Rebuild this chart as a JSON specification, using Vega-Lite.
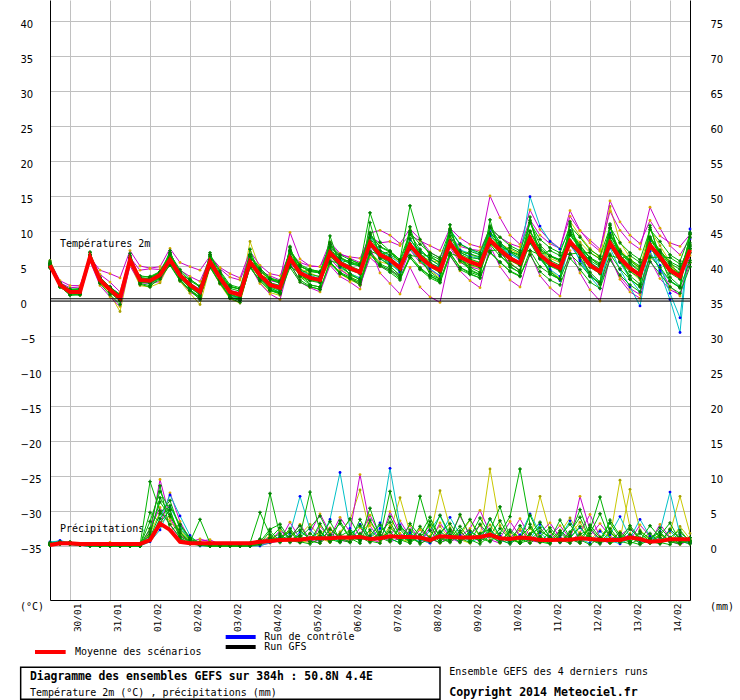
{
  "$schema": "https://vega.github.io/schema/vega-lite/v6.json",
  "width": 640,
  "height": 600,
  "autosize": {"type": "none"},
  "padding": {"left": 50, "top": 0, "right": 50, "bottom": 100},
  "background": "white",
  "view": {"stroke": null},
  "config": {
    "text": {"font": "DejaVu Sans Mono", "fontSize": 10, "align": "left", "baseline": "middle", "fill": "black"}
  },
  "datasets": {
    "temp": [
      {"t":0,"mean":5.1,"g1":5.3,"g2":5.0,"g3":5.5,"g4":4.8,"g5":5.2,"g6":5.0,"g7":4.9,"m1":5.0,"m2":5.3,"m3":5.6,"m4":4.9,"c1":5.1,"c2":5.0,"c3":5.2,"y1":5.8,"y2":5.4,"y3":5.1,"g8":5.4,"g9":4.8,"g10":5.7,"g11":5.3,"g12":5.3,"g13":4.7},
      {"t":6,"mean":2.3,"g1":2.0,"g2":2.5,"g3":2.1,"g4":2.4,"g5":2.2,"g6":2.2,"g7":2.3,"m1":2.6,"m2":2.2,"m3":2.9,"m4":2.0,"c1":2.4,"c2":2.1,"c3":2.5,"y1":2.7,"y2":2.3,"y3":2.4,"g8":2.6,"g9":2.0,"g10":2.5,"g11":2.5,"g12":2.1,"g13":2.3},
      {"t":12,"mean":1.3,"g1":1.0,"g2":1.5,"g3":0.8,"g4":1.6,"g5":1.2,"g6":1.3,"g7":1.2,"m1":1.9,"m2":1.1,"m3":2.2,"m4":1.4,"c1":1.5,"c2":1.1,"c3":1.7,"y1":1.6,"y2":1.2,"y3":1.4,"g8":1.6,"g9":1.0,"g10":0.9,"g11":1.5,"g12":1.5,"g13":1.7},
      {"t":18,"mean":1.3,"g1":1.5,"g2":1.0,"g3":0.9,"g4":1.8,"g5":1.2,"g6":1.4,"g7":1.0,"m1":2.0,"m2":0.8,"m3":2.2,"m4":1.6,"c1":1.1,"c2":1.4,"c3":1.6,"y1":1.4,"y2":1.1,"y3":1.2,"g8":1.6,"g9":1.0,"g10":0.9,"g11":1.5,"g12":1.1,"g13":1.7},
      {"t":24,"mean":6.3,"g1":6.6,"g2":5.9,"g3":7.0,"g4":6.0,"g5":6.4,"g6":6.4,"g7":6.1,"m1":6.5,"m2":5.7,"m3":6.2,"m4":6.0,"c1":6.0,"c2":6.2,"c3":6.5,"y1":6.1,"y2":6.7,"y3":6.2,"g8":6.6,"g9":6.0,"g10":6.9,"g11":6.5,"g12":6.5,"g13":5.9},
      {"t":30,"mean":3.0,"g1":3.3,"g2":2.6,"g3":2.5,"g4":3.4,"g5":3.2,"g6":3.1,"g7":2.8,"m1":3.8,"m2":2.2,"m3":4.4,"m4":3.0,"c1":2.8,"c2":3.2,"c3":3.4,"y1":2.6,"y2":3.1,"y3":2.9,"g8":3.3,"g9":2.7,"g10":3.2,"g11":3.2,"g12":2.8,"g13":3.0},
      {"t":36,"mean":1.6,"g1":1.2,"g2":1.9,"g3":0.9,"g4":2.0,"g5":1.4,"g6":1.6,"g7":1.4,"m1":2.7,"m2":0.6,"m3":3.9,"m4":1.9,"c1":1.5,"c2":1.8,"c3":2.0,"y1":1.0,"y2":1.5,"y3":1.7,"g8":1.9,"g9":1.3,"g10":1.2,"g11":1.8,"g12":1.8,"g13":2.0},
      {"t":42,"mean":0.4,"g1":0.1,"g2":0.8,"g3":-0.5,"g4":0.9,"g5":0.3,"g6":0.5,"g7":0.2,"m1":1.3,"m2":-0.8,"m3":3.3,"m4":1.0,"c1":0.5,"c2":0.6,"c3":0.9,"y1":-1.5,"y2":0.3,"y3":0.4,"g8":0.7,"g9":0.1,"g10":0.0,"g11":0.6,"g12":0.2,"g13":0.8},
      {"t":48,"mean":5.9,"g1":6.2,"g2":5.6,"g3":6.8,"g4":5.5,"g5":6.0,"g6":6.3,"g7":5.8,"m1":6.2,"m2":5.0,"m3":7.2,"m4":5.7,"c1":5.6,"c2":5.8,"c3":6.1,"y1":5.2,"y2":6.5,"y3":6.0,"g8":6.2,"g9":5.6,"g10":6.5,"g11":6.1,"g12":6.1,"g13":5.5},
      {"t":54,"mean":3.0,"g1":3.4,"g2":2.5,"g3":2.4,"g4":3.6,"g5":3.1,"g6":3.0,"g7":2.7,"m1":4.4,"m2":2.6,"m3":5.0,"m4":3.0,"c1":2.8,"c2":3.3,"c3":3.2,"y1":2.2,"y2":3.0,"y3":2.9,"g8":3.3,"g9":2.7,"g10":3.2,"g11":3.2,"g12":2.8,"g13":3.0},
      {"t":60,"mean":2.9,"g1":3.5,"g2":2.2,"g3":2.0,"g4":3.4,"g5":3.3,"g6":2.9,"g7":2.6,"m1":4.6,"m2":2.5,"m3":4.7,"m4":2.5,"c1":2.5,"c2":3.1,"c3":2.8,"y1":2.0,"y2":3.0,"y3":2.7,"g8":3.2,"g9":2.6,"g10":2.5,"g11":3.1,"g12":3.1,"g13":3.3},
      {"t":66,"mean":3.7,"g1":4.2,"g2":3.1,"g3":3.5,"g4":4.0,"g5":4.2,"g6":3.8,"g7":3.4,"m1":4.5,"m2":2.8,"m3":4.9,"m4":3.3,"c1":3.4,"c2":3.9,"c3":3.6,"y1":2.6,"y2":3.8,"y3":3.5,"g8":4.0,"g9":3.4,"g10":3.3,"g11":3.9,"g12":3.5,"g13":4.1},
      {"t":72,"mean":5.9,"g1":6.6,"g2":5.2,"g3":7.2,"g4":5.5,"g5":6.9,"g6":6.2,"g7":5.7,"m1":6.3,"m2":5.7,"m3":7.5,"m4":5.1,"c1":5.9,"c2":5.7,"c3":6.1,"y1":5.5,"y2":6.3,"y3":6.0,"g8":6.7,"g9":5.1,"g10":6.9,"g11":6.1,"g12":6.1,"g13":5.1},
      {"t":78,"mean":3.7,"g1":4.0,"g2":3.0,"g3":3.1,"g4":4.2,"g5":4.1,"g6":3.6,"g7":3.3,"m1":4.4,"m2":3.0,"m3":5.5,"m4":3.2,"c1":3.6,"c2":3.9,"c3":3.5,"y1":2.8,"y2":3.9,"y3":3.3,"g8":4.5,"g9":2.9,"g10":3.9,"g11":3.9,"g12":3.5,"g13":3.7},
      {"t":84,"mean":2.3,"g1":2.0,"g2":1.5,"g3":1.5,"g4":2.9,"g5":2.3,"g6":2.1,"g7":1.9,"m1":3.5,"m2":1.3,"m3":4.9,"m4":2.4,"c1":2.0,"c2":2.6,"c3":1.9,"y1":1.1,"y2":2.6,"y3":2.0,"g8":3.1,"g9":1.5,"g10":1.6,"g11":2.5,"g12":2.5,"g13":3.1},
      {"t":90,"mean":1.3,"g1":0.8,"g2":0.5,"g3":0.2,"g4":2.0,"g5":1.2,"g6":1.1,"g7":1.0,"m1":2.8,"m2":0.4,"m3":4.4,"m4":1.7,"c1":1.2,"c2":1.6,"c3":0.9,"y1":-0.5,"y2":1.5,"y3":1.0,"g8":2.1,"g9":0.5,"g10":0.6,"g11":1.5,"g12":1.1,"g13":2.1},
      {"t":96,"mean":5.6,"g1":5.2,"g2":4.9,"g3":6.9,"g4":5.9,"g5":5.4,"g6":5.9,"g7":5.3,"m1":6.1,"m2":5.2,"m3":6.4,"m4":5.5,"c1":5.4,"c2":5.8,"c3":5.3,"y1":4.9,"y2":6.0,"y3":5.7,"g8":6.4,"g9":4.8,"g10":6.6,"g11":6.6,"g12":5.8,"g13":4.8},
      {"t":102,"mean":3.3,"g1":3.8,"g2":2.6,"g3":2.9,"g4":3.9,"g5":3.1,"g6":3.4,"g7":2.9,"m1":4.6,"m2":2.5,"m3":4.8,"m4":3.0,"c1":3.0,"c2":3.5,"c3":3.1,"y1":2.4,"y2":3.3,"y3":3.2,"g8":4.1,"g9":2.5,"g10":3.5,"g11":4.3,"g12":3.1,"g13":3.3},
      {"t":108,"mean":1.3,"g1":1.8,"g2":0.5,"g3":0.4,"g4":2.0,"g5":0.9,"g6":1.3,"g7":1.0,"m1":3.4,"m2":0.8,"m3":3.9,"m4":1.5,"c1":1.0,"c2":1.5,"c3":0.9,"y1":0.3,"y2":1.2,"y3":1.2,"g8":2.1,"g9":0.5,"g10":0.6,"g11":2.3,"g12":1.5,"g13":2.1},
      {"t":114,"mean":0.9,"g1":1.4,"g2":0.1,"g3":-0.2,"g4":1.7,"g5":0.4,"g6":0.9,"g7":0.5,"m1":3.0,"m2":0.3,"m3":3.3,"m4":1.2,"c1":0.3,"c2":1.0,"c3":0.2,"y1":-0.3,"y2":0.6,"y3":0.7,"g8":1.7,"g9":0.1,"g10":0.2,"g11":1.9,"g12":0.7,"g13":1.7},
      {"t":120,"mean":5.6,"g1":6.4,"g2":4.8,"g3":7.4,"g4":5.9,"g5":5.5,"g6":5.9,"g7":5.4,"m1":6.4,"m2":5.0,"m3":7.1,"m4":5.2,"c1":5.3,"c2":5.4,"c3":5.6,"y1":5.1,"y2":8.5,"y3":5.8,"g8":6.4,"g9":4.8,"g10":6.6,"g11":6.6,"g12":5.8,"g13":4.8},
      {"t":126,"mean":3.7,"g1":4.3,"g2":2.9,"g3":3.4,"g4":4.3,"g5":3.1,"g6":3.9,"g7":3.4,"m1":4.3,"m2":2.5,"m3":5.1,"m4":3.5,"c1":3.4,"c2":3.8,"c3":3.7,"y1":2.6,"y2":4.5,"y3":3.8,"g8":4.5,"g9":2.9,"g10":3.9,"g11":4.7,"g12":3.5,"g13":3.7},
      {"t":132,"mean":2.3,"g1":3.1,"g2":1.5,"g3":1.6,"g4":3.2,"g5":1.9,"g6":2.6,"g7":2.0,"m1":3.6,"m2":1.0,"m3":3.9,"m4":2.9,"c1":1.8,"c2":2.6,"c3":2.2,"y1":1.2,"y2":2.5,"y3":2.5,"g8":3.1,"g9":1.5,"g10":1.6,"g11":3.3,"g12":2.5,"g13":3.1},
      {"t":138,"mean":1.9,"g1":2.5,"g2":1.0,"g3":1.1,"g4":2.8,"g5":1.2,"g6":2.2,"g7":1.5,"m1":3.0,"m2":0.2,"m3":3.6,"m4":2.6,"c1":1.3,"c2":2.2,"c3":1.6,"y1":0.8,"y2":1.7,"y3":2.0,"g8":2.7,"g9":1.1,"g10":1.2,"g11":2.9,"g12":1.7,"g13":2.7},
      {"t":144,"mean":6.1,"g1":7.2,"g2":5.2,"g3":7.8,"g4":6.3,"g5":5.9,"g6":6.7,"g7":5.7,"m1":9.8,"m2":5.5,"m3":6.9,"m4":6.0,"c1":5.7,"c2":6.4,"c3":6.1,"y1":6.4,"y2":7.0,"y3":6.2,"g8":7.3,"g9":4.8,"g10":7.6,"g11":7.1,"g12":6.3,"g13":4.9},
      {"t":150,"mean":4.0,"g1":5.0,"g2":3.0,"g3":3.5,"g4":4.9,"g5":3.8,"g6":4.5,"g7":3.6,"m1":6.0,"m2":2.7,"m3":5.5,"m4":4.0,"c1":3.9,"c2":4.3,"c3":4.2,"y1":3.4,"y2":4.6,"y3":4.1,"g8":5.2,"g9":2.7,"g10":4.2,"g11":5.0,"g12":3.8,"g13":4.0},
      {"t":156,"mean":3.3,"g1":4.2,"g2":2.1,"g3":2.3,"g4":4.4,"g5":3.0,"g6":3.8,"g7":2.9,"m1":5.0,"m2":1.9,"m3":5.0,"m4":3.3,"c1":3.4,"c2":3.7,"c3":3.2,"y1":2.9,"y2":4.0,"y3":3.3,"g8":4.5,"g9":2.0,"g10":2.3,"g11":4.3,"g12":3.5,"g13":4.5},
      {"t":162,"mean":3.0,"g1":4.0,"g2":1.6,"g3":2.0,"g4":4.1,"g5":2.8,"g6":3.5,"g7":2.6,"m1":4.9,"m2":1.3,"m3":4.9,"m4":3.0,"c1":3.4,"c2":3.1,"c3":2.6,"y1":2.9,"y2":3.4,"y3":3.0,"g8":4.2,"g9":1.7,"g10":2.0,"g11":4.0,"g12":2.8,"g13":4.2},
      {"t":168,"mean":6.9,"g1":8.1,"g2":5.5,"g3":9.3,"g4":7.2,"g5":7.8,"g6":7.6,"g7":6.4,"m1":7.6,"m2":5.1,"m3":8.4,"m4":6.1,"c1":7.2,"c2":7.0,"c3":6.6,"y1":5.6,"y2":6.9,"y3":6.5,"g8":8.1,"g9":5.6,"g10":8.4,"g11":5.4,"g12":7.1,"g13":5.7},
      {"t":174,"mean":5.4,"g1":6.2,"g2":4.0,"g3":5.0,"g4":6.1,"g5":6.3,"g6":5.7,"g7":5.0,"m1":6.6,"m2":3.5,"m3":6.8,"m4":4.5,"c1":5.9,"c2":5.2,"c3":4.8,"y1":3.9,"y2":4.6,"y3":4.8,"g8":6.6,"g9":4.1,"g10":5.6,"g11":3.9,"g12":5.2,"g13":5.4},
      {"t":180,"mean":4.7,"g1":5.3,"g2":3.2,"g3":3.9,"g4":5.6,"g5":5.5,"g6":5.0,"g7":4.4,"m1":6.3,"m2":2.7,"m3":6.1,"m4":3.5,"c1":5.4,"c2":4.6,"c3":3.9,"y1":3.0,"y2":3.6,"y3":3.9,"g8":5.9,"g9":3.4,"g10":3.7,"g11":3.2,"g12":4.9,"g13":5.9},
      {"t":186,"mean":4.1,"g1":5.0,"g2":2.3,"g3":3.0,"g4":5.2,"g5":5.1,"g6":4.4,"g7":3.9,"m1":6.1,"m2":1.7,"m3":5.5,"m4":2.2,"c1":5.0,"c2":4.3,"c3":3.3,"y1":2.4,"y2":2.4,"y3":3.3,"g8":5.3,"g9":2.8,"g10":3.1,"g11":2.6,"g12":3.9,"g13":5.3},
      {"t":192,"mean":8.3,"g1":9.6,"g2":6.7,"g3":11.2,"g4":7.9,"g5":12.6,"g6":9.0,"g7":7.9,"m1":9.2,"m2":7.7,"m3":9.7,"m4":6.2,"c1":9.3,"c2":8.6,"c3":7.9,"y1":7.0,"y2":8.2,"y3":8.5,"g8":9.5,"g9":7.0,"g10":9.8,"g11":6.8,"g12":8.5,"g13":7.1},
      {"t":198,"mean":6.6,"g1":7.7,"g2":5.0,"g3":6.1,"g4":7.2,"g5":8.4,"g6":7.0,"g7":6.2,"m1":8.3,"m2":4.0,"m3":10.1,"m4":4.9,"c1":7.2,"c2":6.5,"c3":6.0,"y1":5.6,"y2":6.7,"y3":6.4,"g8":7.8,"g9":5.3,"g10":6.8,"g11":5.1,"g12":6.4,"g13":6.6},
      {"t":204,"mean":5.9,"g1":7.0,"g2":4.1,"g3":5.0,"g4":6.6,"g5":7.1,"g6":6.2,"g7":5.6,"m1":8.5,"m2":2.5,"m3":9.4,"m4":4.4,"c1":6.4,"c2":5.4,"c3":5.3,"y1":5.2,"y2":6.3,"y3":5.5,"g8":7.1,"g9":4.6,"g10":4.9,"g11":4.4,"g12":6.1,"g13":7.1},
      {"t":210,"mean":4.7,"g1":5.6,"g2":3.0,"g3":3.6,"g4":5.8,"g5":5.9,"g6":5.0,"g7":4.4,"m1":7.9,"m2":1.0,"m3":8.2,"m4":3.6,"c1":5.4,"c2":4.1,"c3":4.2,"y1":4.3,"y2":5.7,"y3":4.2,"g8":5.9,"g9":3.4,"g10":3.7,"g11":3.2,"g12":4.5,"g13":5.9},
      {"t":216,"mean":8.0,"g1":9.5,"g2":6.2,"g3":10.6,"g4":7.4,"g5":13.6,"g6":8.9,"g7":7.6,"m1":9.4,"m2":4.8,"m3":10.3,"m4":7.3,"c1":8.7,"c2":8.9,"c3":7.4,"y1":8.2,"y2":7.6,"y3":7.9,"g8":9.8,"g9":6.2,"g10":10.0,"g11":6.5,"g12":8.2,"g13":6.5},
      {"t":222,"mean":6.3,"g1":7.4,"g2":4.6,"g3":5.8,"g4":7.0,"g5":8.8,"g6":6.8,"g7":6.0,"m1":8.6,"m2":2.0,"m3":8.8,"m4":5.5,"c1":7.3,"c2":6.6,"c3":5.8,"y1":6.1,"y2":6.5,"y3":6.0,"g8":8.1,"g9":4.5,"g10":6.5,"g11":4.8,"g12":6.1,"g13":6.3},
      {"t":228,"mean":5.1,"g1":6.0,"g2":3.6,"g3":4.2,"g4":6.2,"g5":6.5,"g6":5.5,"g7":4.9,"m1":7.9,"m2":0.6,"m3":7.0,"m4":4.5,"c1":5.9,"c2":5.3,"c3":4.6,"y1":4.9,"y2":5.8,"y3":4.4,"g8":6.9,"g9":3.3,"g10":3.8,"g11":3.6,"g12":5.3,"g13":6.6},
      {"t":234,"mean":4.4,"g1":5.0,"g2":2.7,"g3":3.1,"g4":5.6,"g5":5.4,"g6":4.7,"g7":4.1,"m1":7.2,"m2":-0.2,"m3":6.1,"m4":3.6,"c1":5.1,"c2":4.9,"c3":3.6,"y1":4.0,"y2":5.5,"y3":3.3,"g8":6.2,"g9":2.6,"g10":3.1,"g11":2.9,"g12":4.2,"g13":5.9},
      {"t":240,"mean":8.3,"g1":9.8,"g2":6.9,"g3":10.9,"g4":8.0,"g5":8.6,"g6":9.3,"g7":7.9,"m1":10.4,"m2":6.5,"m3":9.1,"m4":7.6,"c1":9.8,"c2":10.2,"c3":8.7,"y1":8.2,"y2":9.0,"y3":8.0,"g8":10.1,"g9":6.5,"g10":10.3,"g11":6.8,"g12":8.5,"g13":6.8},
      {"t":246,"mean":6.3,"g1":7.0,"g2":4.8,"g3":5.7,"g4":7.1,"g5":5.9,"g6":6.7,"g7":5.9,"m1":9.0,"m2":4.3,"m3":7.8,"m4":5.5,"c1":7.3,"c2":8.2,"c3":6.9,"y1":6.3,"y2":7.3,"y3":5.7,"g8":8.1,"g9":4.5,"g10":6.5,"g11":4.8,"g12":6.1,"g13":6.3},
      {"t":252,"mean":5.6,"g1":6.2,"g2":3.9,"g3":4.5,"g4":6.7,"g5":4.8,"g6":6.0,"g7":5.2,"m1":8.1,"m2":2.9,"m3":7.4,"m4":4.9,"c1":6.8,"c2":7.4,"c3":6.4,"y1":5.9,"y2":6.6,"y3":5.1,"g8":7.4,"g9":3.8,"g10":4.3,"g11":4.1,"g12":5.8,"g13":7.1},
      {"t":258,"mean":5.1,"g1":6.0,"g2":3.3,"g3":3.8,"g4":6.3,"g5":4.1,"g6":5.5,"g7":4.8,"m1":7.7,"m2":1.9,"m3":7.2,"m4":4.5,"c1":6.1,"c2":6.6,"c3":6.0,"y1":5.4,"y2":6.1,"y3":4.7,"g8":6.9,"g9":3.3,"g10":3.8,"g11":3.6,"g12":4.9,"g13":6.6},
      {"t":264,"mean":8.7,"g1":10.5,"g2":7.0,"g3":11.6,"g4":8.4,"g5":8.1,"g6":9.6,"g7":8.3,"m1":15.0,"m2":7.9,"m3":10.4,"m4":8.7,"c1":9.9,"c2":10.4,"c3":9.3,"y1":9.5,"y2":9.8,"y3":8.2,"g8":10.5,"g9":6.9,"g10":10.7,"g11":9.7,"g12":8.9,"g13":7.2},
      {"t":270,"mean":7.3,"g1":8.4,"g2":5.6,"g3":6.6,"g4":7.9,"g5":6.4,"g6":7.8,"g7":7.0,"m1":11.9,"m2":4.9,"m3":9.1,"m4":6.9,"c1":8.2,"c2":8.3,"c3":8.0,"y1":7.4,"y2":8.2,"y3":6.9,"g8":9.1,"g9":5.5,"g10":7.5,"g11":8.3,"g12":7.1,"g13":7.3},
      {"t":276,"mean":6.1,"g1":7.0,"g2":4.2,"g3":5.0,"g4":7.1,"g5":5.3,"g6":6.4,"g7":5.8,"m1":9.4,"m2":3.0,"m3":8.2,"m4":5.4,"c1":6.9,"c2":6.4,"c3":6.7,"y1":5.6,"y2":7.4,"y3":5.8,"g8":7.9,"g9":4.3,"g10":4.8,"g11":7.1,"g12":6.3,"g13":7.6},
      {"t":282,"mean":5.4,"g1":6.1,"g2":3.5,"g3":4.0,"g4":6.6,"g5":4.4,"g6":5.5,"g7":5.1,"m1":8.1,"m2":2.0,"m3":7.7,"m4":4.3,"c1":6.0,"c2":5.1,"c3":5.9,"y1":4.2,"y2":6.7,"y3":5.0,"g8":7.2,"g9":3.6,"g10":4.1,"g11":6.4,"g12":5.2,"g13":6.9},
      {"t":288,"mean":9.0,"g1":11.2,"g2":7.2,"g3":12.0,"g4":8.5,"g5":8.3,"g6":9.9,"g7":8.6,"m1":13.0,"m2":6.9,"m3":11.6,"m4":9.1,"c1":14.9,"c2":9.1,"c3":8.5,"y1":8.7,"y2":9.9,"y3":8.8,"g8":11.2,"g9":6.6,"g10":11.5,"g11":10.0,"g12":9.2,"g13":7.2},
      {"t":294,"mean":6.6,"g1":8.0,"g2":4.9,"g3":6.1,"g4":7.3,"g5":6.0,"g6":7.2,"g7":6.3,"m1":10.2,"m2":3.6,"m3":9.4,"m4":6.9,"c1":10.7,"c2":6.2,"c3":6.0,"y1":6.1,"y2":7.3,"y3":6.6,"g8":8.8,"g9":4.2,"g10":6.8,"g11":7.6,"g12":6.4,"g13":6.6},
      {"t":300,"mean":5.4,"g1":6.5,"g2":3.9,"g3":4.2,"g4":6.4,"g5":5.0,"g6":5.8,"g7":5.0,"m1":8.6,"m2":1.9,"m3":8.2,"m4":5.3,"c1":8.5,"c2":4.5,"c3":4.3,"y1":4.4,"y2":6.1,"y3":5.4,"g8":7.6,"g9":3.0,"g10":3.8,"g11":6.4,"g12":5.6,"g13":7.2},
      {"t":306,"mean":4.7,"g1":5.9,"g2":3.1,"g3":3.1,"g4":5.9,"g5":4.6,"g6":5.1,"g7":4.3,"m1":7.5,"m2":0.7,"m3":7.5,"m4":4.3,"c1":7.4,"c2":3.5,"c3":2.9,"y1":3.2,"y2":5.5,"y3":4.6,"g8":6.9,"g9":2.3,"g10":3.1,"g11":5.7,"g12":4.5,"g13":6.5},
      {"t":312,"mean":8.5,"g1":10.0,"g2":6.7,"g3":11.3,"g4":8.2,"g5":9.8,"g6":9.4,"g7":8.0,"m1":12.9,"m2":7.2,"m3":12.1,"m4":8.0,"c1":10.1,"c2":8.3,"c3":8.6,"y1":11.4,"y2":9.6,"y3":8.6,"g8":10.7,"g9":6.1,"g10":11.0,"g11":9.5,"g12":8.7,"g13":6.7},
      {"t":318,"mean":6.9,"g1":8.0,"g2":5.3,"g3":6.2,"g4":7.6,"g5":7.4,"g6":7.5,"g7":6.6,"m1":10.1,"m2":4.0,"m3":10.0,"m4":6.0,"c1":7.7,"c2":5.9,"c3":5.7,"y1":9.3,"y2":8.4,"y3":6.9,"g8":9.1,"g9":4.5,"g10":7.1,"g11":7.9,"g12":6.7,"g13":6.9},
      {"t":324,"mean":5.1,"g1":6.2,"g2":3.6,"g3":4.1,"g4":6.2,"g5":5.8,"g6":5.5,"g7":4.8,"m1":8.3,"m2":1.6,"m3":8.7,"m4":3.9,"c1":5.6,"c2":3.7,"c3":3.5,"y1":7.5,"y2":6.9,"y3":5.3,"g8":7.3,"g9":2.7,"g10":3.5,"g11":6.1,"g12":5.3,"g13":6.9},
      {"t":330,"mean":4.2,"g1":5.0,"g2":2.4,"g3":2.7,"g4":5.4,"g5":4.9,"g6":4.5,"g7":3.9,"m1":7.1,"m2":0.0,"m3":7.4,"m4":2.2,"c1":4.5,"c2":2.6,"c3":1.8,"y1":6.2,"y2":6.1,"y3":4.2,"g8":6.4,"g9":1.8,"g10":2.6,"g11":5.2,"g12":4.0,"g13":6.0},
      {"t":336,"mean":8.3,"g1":9.5,"g2":6.7,"g3":11.0,"g4":7.9,"g5":10.4,"g6":9.0,"g7":7.8,"m1":14.3,"m2":6.4,"m3":12.8,"m4":6.0,"c1":9.7,"c2":7.6,"c3":8.3,"y1":9.7,"y2":13.5,"y3":7.9,"g8":10.5,"g9":5.9,"g10":10.8,"g11":9.3,"g12":8.5,"g13":6.5},
      {"t":342,"mean":6.1,"g1":7.2,"g2":4.6,"g3":5.6,"g4":7.0,"g5":7.0,"g6":6.6,"g7":5.6,"m1":11.3,"m2":3.1,"m3":10.1,"m4":3.5,"c1":6.6,"c2":4.5,"c3":5.5,"y1":7.4,"y2":8.4,"y3":5.7,"g8":8.3,"g9":3.7,"g10":6.3,"g11":7.1,"g12":5.9,"g13":6.1},
      {"t":348,"mean":4.7,"g1":5.5,"g2":3.1,"g3":3.6,"g4":5.9,"g5":5.3,"g6":5.0,"g7":4.2,"m1":9.4,"m2":1.3,"m3":8.4,"m4":1.8,"c1":4.6,"c2":2.0,"c3":3.2,"y1":5.8,"y2":6.2,"y3":4.3,"g8":6.9,"g9":2.3,"g10":3.1,"g11":5.7,"g12":4.9,"g13":6.5},
      {"t":354,"mean":3.7,"g1":4.3,"g2":2.0,"g3":2.4,"g4":5.0,"g5":4.2,"g6":3.8,"g7":3.3,"m1":8.2,"m2":0.4,"m3":7.4,"m4":0.9,"c1":3.4,"c2":-0.7,"c3":1.3,"y1":4.8,"y2":4.4,"y3":3.0,"g8":5.9,"g9":1.3,"g10":2.1,"g11":4.7,"g12":3.5,"g13":5.5},
      {"t":360,"mean":8.0,"g1":9.2,"g2":6.4,"g3":10.8,"g4":7.7,"g5":9.0,"g6":8.8,"g7":7.5,"m1":11.5,"m2":5.9,"m3":13.4,"m4":6.8,"c1":8.5,"c2":7.1,"c3":8.1,"y1":10.2,"y2":8.8,"y3":7.7,"g8":10.2,"g9":5.6,"g10":10.5,"g11":9.0,"g12":8.2,"g13":6.2},
      {"t":366,"mean":6.3,"g1":7.0,"g2":4.8,"g3":5.9,"g4":7.1,"g5":6.8,"g6":6.7,"g7":5.9,"m1":9.3,"m2":3.2,"m3":10.4,"m4":4.6,"c1":4.1,"c2":4.4,"c3":5.1,"y1":7.9,"y2":7.2,"y3":6.0,"g8":8.5,"g9":3.9,"g10":6.5,"g11":7.3,"g12":6.1,"g13":6.3},
      {"t":372,"mean":4.4,"g1":5.1,"g2":2.9,"g3":3.4,"g4":5.6,"g5":4.7,"g6":4.6,"g7":4.0,"m1":8.3,"m2":1.6,"m3":7.9,"m4":2.1,"c1":0.2,"c2":2.9,"c3":1.1,"y1":5.6,"y2":5.2,"y3":4.9,"g8":6.6,"g9":2.0,"g10":2.8,"g11":5.4,"g12":4.6,"g13":6.2},
      {"t":378,"mean":3.5,"g1":4.0,"g2":1.9,"g3":2.1,"g4":4.9,"g5":3.9,"g6":3.5,"g7":3.1,"m1":7.8,"m2":0.9,"m3":6.6,"m4":0.7,"c1":-4.5,"c2":2.0,"c3":-2.4,"y1":3.5,"y2":3.8,"y3":3.9,"g8":5.7,"g9":1.1,"g10":1.9,"g11":4.5,"g12":3.3,"g13":5.3},
      {"t":384,"mean":7.3,"g1":8.0,"g2":5.8,"g3":9.6,"g4":7.8,"g5":9.1,"g6":7.5,"g7":6.9,"m1":9.5,"m2":5.5,"m3":8.9,"m4":6.5,"c1":10.3,"c2":8.9,"c3":9.7,"y1":8.0,"y2":7.4,"y3":7.2,"g8":9.5,"g9":4.9,"g10":9.8,"g11":8.3,"g12":7.5,"g13":5.5}
    ],
    "rain": [
      {"t":0,"mean":0.15,"g1":0.3,"g2":0.2,"g3":0.1,"g4":0.4,"g5":0.2,"m1":0.1,"m2":0.2,"m3":0.3,"c1":0.6,"c2":0.4,"y1":0.2,"y2":0.3,"g6":0.2,"g7":0.5,"g8":0.3},
      {"t":6,"mean":0.4,"g1":0.5,"g2":0.4,"g3":0.3,"g4":0.6,"g5":0.4,"m1":0.2,"m2":0.3,"m3":0.3,"c1":0.7,"c2":0.8,"y1":0.4,"y2":0.5,"g6":0.6,"g7":0.3,"g8":0.5},
      {"t":12,"mean":0.4,"g1":0.4,"g2":0.6,"g3":0.3,"g4":0.5,"g5":0.4,"m1":0.2,"m2":0.3,"m3":0.2,"c1":0.3,"c2":0.4,"y1":0.3,"y2":0.3,"g6":0.3,"g7":0.4,"g8":0.2},
      {"t":18,"mean":0.3,"g1":0.2,"g2":0.2,"g3":0.1,"g4":0.3,"g5":0.2,"m1":0.1,"m2":0.2,"m3":0.1,"c1":0.1,"c2":0.1,"y1":0.1,"y2":0.2,"g6":0.1,"g7":0.2,"g8":0.1},
      {"t":24,"mean":0.3,"g1":0.1,"g2":0.1,"g3":0,"g4":0.2,"g5":0.1,"m1":0,"m2":0.1,"m3":0,"c1":0,"c2":0,"y1":0,"y2":0.1,"g6":0,"g7":0.1,"g8":0.1},
      {"t":30,"mean":0.3,"g1":0,"g2":0,"g3":0,"g4":0.1,"g5":0,"m1":0,"m2":0,"m3":0,"c1":0,"c2":0,"y1":0,"y2":0,"g6":0,"g7":0,"g8":0},
      {"t":36,"mean":0.3,"g1":0,"g2":0,"g3":0,"g4":0.2,"g5":0.1,"m1":0.5,"m2":0,"m3":0,"c1":0,"c2":0,"y1":0.1,"y2":0,"g6":0.1,"g7":0,"g8":0},
      {"t":42,"mean":0.3,"g1":0.1,"g2":0,"g3":0,"g4":0,"g5":0,"m1":0.3,"m2":0,"m3":0.2,"c1":0,"c2":0,"y1":0,"y2":0,"g6":0,"g7":0.1,"g8":0},
      {"t":48,"mean":0.3,"g1":0,"g2":0.1,"g3":0,"g4":0,"g5":0,"m1":0,"m2":0,"m3":0.1,"c1":0,"c2":0,"y1":0,"y2":0,"g6":0,"g7":0,"g8":0},
      {"t":54,"mean":0.3,"g1":0.1,"g2":0,"g3":0,"g4":0.1,"g5":0,"m1":0,"m2":0,"m3":0,"c1":0,"c2":0,"y1":0,"y2":0,"g6":0,"g7":0,"g8":0.1},
      {"t":60,"mean":0.85,"g1":9.2,"g2":2.0,"g3":1.2,"g4":3.5,"g5":0.8,"m1":1.5,"m2":0.9,"m3":2.4,"c1":1.1,"c2":0.6,"y1":1.8,"y2":1.0,"g6":1.6,"g7":4.8,"g8":2.5},
      {"t":66,"mean":3.2,"g1":5.0,"g2":6.3,"g3":4.6,"g4":7.8,"g5":3.9,"m1":9.5,"m2":2.8,"m3":5.5,"c1":3.9,"c2":2.3,"y1":4.8,"y2":3.2,"g6":6.9,"g7":3.3,"g8":8.6},
      {"t":72,"mean":2.3,"g1":3.1,"g2":4.2,"g3":6.5,"g4":5.1,"g5":5.8,"m1":4.0,"m2":7.6,"m3":3.0,"c1":7.3,"c2":5.6,"y1":3.6,"y2":4.4,"g6":4.5,"g7":5.2,"g8":2.2},
      {"t":78,"mean":0.6,"g1":1.2,"g2":2.0,"g3":2.4,"g4":1.4,"g5":3.0,"m1":1.5,"m2":3.5,"m3":1.1,"c1":4.3,"c2":2.8,"y1":1.6,"y2":2.2,"g6":1.8,"g7":0.9,"g8":3.1},
      {"t":84,"mean":0.4,"g1":0.3,"g2":0.6,"g3":0.9,"g4":0.5,"g5":1.0,"m1":0.6,"m2":0.9,"m3":0.4,"c1":1.5,"c2":0.8,"y1":0.5,"y2":0.7,"g6":0.5,"g7":0.4,"g8":1.2},
      {"t":90,"mean":0.4,"g1":0.1,"g2":3.8,"g3":0.2,"g4":0.1,"g5":0.4,"m1":1.0,"m2":0.3,"m3":0.7,"c1":0.2,"c2":0,"y1":0.2,"y2":0.3,"g6":0.2,"g7":0.1,"g8":0.5},
      {"t":96,"mean":0.4,"g1":0,"g2":0.4,"g3":0,"g4":0,"g5":0,"m1":0.6,"m2":0.1,"m3":0.9,"c1":0,"c2":0,"y1":0,"y2":0,"g6":0,"g7":0,"g8":0.1},
      {"t":102,"mean":0.4,"g1":0,"g2":0,"g3":0,"g4":0,"g5":0,"m1":0,"m2":0,"m3":0.2,"c1":0,"c2":0,"y1":0,"y2":0,"g6":0,"g7":0,"g8":0},
      {"t":108,"mean":0.4,"g1":0,"g2":0,"g3":0,"g4":0.1,"g5":0,"m1":0,"m2":0,"m3":0,"c1":0,"c2":0,"y1":0,"y2":0,"g6":0,"g7":0,"g8":0},
      {"t":114,"mean":0.4,"g1":0,"g2":0,"g3":0,"g4":0,"g5":0,"m1":0,"m2":0,"m3":0,"c1":0,"c2":0,"y1":0,"y2":0,"g6":0,"g7":0,"g8":0},
      {"t":120,"mean":0.4,"g1":0.2,"g2":0,"g3":0.4,"g4":0.1,"g5":0,"m1":0,"m2":0,"m3":0.1,"c1":0,"c2":0,"y1":0,"y2":0,"g6":0.1,"g7":0,"g8":0.2},
      {"t":126,"mean":0.6,"g1":1.0,"g2":0.3,"g3":4.8,"g4":0.6,"g5":0.2,"m1":0.2,"m2":0.1,"m3":0.5,"c1":0,"c2":0.3,"y1":0.4,"y2":0.2,"g6":0.5,"g7":0.9,"g8":0.3},
      {"t":132,"mean":0.7,"g1":7.5,"g2":1.2,"g3":1.6,"g4":2.4,"g5":0.9,"m1":0.7,"m2":0.4,"m3":1.3,"c1":0.5,"c2":1.0,"y1":1.5,"y2":0.6,"g6":1.1,"g7":0.6,"g8":2.1},
      {"t":138,"mean":0.85,"g1":1.5,"g2":0.8,"g3":0.5,"g4":3.1,"g5":1.8,"m1":2.2,"m2":0.8,"m3":0.6,"c1":1.4,"c2":0.6,"y1":0.9,"y2":1.3,"g6":2.6,"g7":1.2,"g8":0.7},
      {"t":144,"mean":0.9,"g1":0.8,"g2":2.5,"g3":1.3,"g4":0.9,"g5":0.5,"m1":1.1,"m2":3.4,"m3":1.1,"c1":0.6,"c2":1.8,"y1":0.6,"y2":2.1,"g6":0.8,"g7":2.0,"g8":1.4},
      {"t":150,"mean":0.9,"g1":0.5,"g2":0.6,"g3":2.9,"g4":1.5,"g5":1.2,"m1":0.5,"m2":1.0,"m3":3.1,"c1":2.0,"c2":7.1,"y1":1.6,"y2":0.8,"g6":1.5,"g7":0.5,"g8":2.3},
      {"t":156,"mean":1.1,"g1":1.2,"g2":0.3,"g3":0.7,"g4":7.7,"g5":2.6,"m1":1.8,"m2":0.6,"m3":0.9,"c1":1.1,"c2":2.4,"y1":3.1,"y2":0.5,"g6":0.6,"g7":1.8,"g8":0.9},
      {"t":162,"mean":1.1,"g1":2.0,"g2":1.1,"g3":0.4,"g4":2.1,"g5":4.3,"m1":4.6,"m2":2.8,"m3":0.4,"c1":0.7,"c2":0.8,"y1":1.2,"y2":1.8,"g6":3.2,"g7":0.7,"g8":1.5},
      {"t":168,"mean":1.1,"g1":0.6,"g2":3.5,"g3":1.6,"g4":0.8,"g5":1.5,"m1":1.9,"m2":1.2,"m3":2.4,"c1":3.8,"c2":1.2,"y1":0.5,"y2":2.6,"g6":1.0,"g7":2.4,"g8":0.6},
      {"t":174,"mean":1.2,"g1":1.4,"g2":0.9,"g3":3.2,"g4":1.7,"g5":0.6,"m1":0.8,"m2":4.1,"m3":1.0,"c1":10.5,"c2":0.6,"y1":2.0,"y2":1.1,"g6":0.5,"g7":1.2,"g8":3.6},
      {"t":180,"mean":1.2,"g1":2.2,"g2":0.5,"g3":1.1,"g4":3.9,"g5":1.6,"m1":0.6,"m2":2.0,"m3":0.7,"c1":2.5,"c2":1.5,"y1":3.7,"y2":0.9,"g6":1.9,"g7":0.6,"g8":1.1},
      {"t":186,"mean":1.3,"g1":0.9,"g2":1.8,"g3":0.4,"g4":1.3,"g5":2.9,"m1":2.6,"m2":10.2,"m3":1.5,"c1":0.8,"c2":3.1,"y1":8.0,"y2":1.7,"g6":0.7,"g7":3.8,"g8":0.9},
      {"t":192,"mean":1.0,"g1":1.5,"g2":0.7,"g3":3.7,"g4":0.5,"g5":0.8,"m1":1.0,"m2":2.9,"m3":4.4,"c1":1.4,"c2":1.2,"y1":1.9,"y2":3.4,"g6":2.3,"g7":1.0,"g8":5.4},
      {"t":198,"mean":1.1,"g1":3.0,"g2":0.4,"g3":1.2,"g4":2.0,"g5":1.3,"m1":0.5,"m2":0.9,"m3":1.6,"c1":3.3,"c2":2.5,"y1":0.7,"y2":1.3,"g6":0.9,"g7":1.6,"g8":1.2},
      {"t":204,"mean":1.4,"g1":1.1,"g2":2.6,"g3":0.6,"g4":3.4,"g5":7.8,"m1":4.9,"m2":1.4,"m3":0.6,"c1":1.0,"c2":11.1,"y1":2.9,"y2":2.0,"g6":4.2,"g7":0.8,"g8":2.0},
      {"t":210,"mean":1.3,"g1":0.4,"g2":1.3,"g3":2.8,"g4":0.9,"g5":2.4,"m1":1.8,"m2":3.6,"m3":1.1,"c1":0.5,"c2":3.0,"y1":1.0,"y2":6.9,"g6":1.4,"g7":2.7,"g8":0.6},
      {"t":216,"mean":1.3,"g1":2.3,"g2":0.8,"g3":1.5,"g4":0.4,"g5":0.7,"m1":0.7,"m2":1.3,"m3":2.9,"c1":1.9,"c2":1.2,"y1":0.6,"y2":1.9,"g6":0.6,"g7":1.1,"g8":3.2},
      {"t":222,"mean":1.2,"g1":1.0,"g2":7.1,"g3":0.3,"g4":1.6,"g5":1.2,"m1":2.3,"m2":0.5,"m3":0.8,"c1":0.9,"c2":0.6,"y1":2.4,"y2":0.8,"g6":2.8,"g7":0.5,"g8":1.4},
      {"t":228,"mean":0.85,"g1":0.6,"g2":2.2,"g3":1.1,"g4":4.1,"g5":3.0,"m1":1.1,"m2":2.7,"m3":0.5,"c1":0.4,"c2":2.2,"y1":1.3,"y2":1.4,"g6":1.1,"g7":3.5,"g8":0.7},
      {"t":234,"mean":1.4,"g1":1.9,"g2":0.5,"g3":4.4,"g4":1.2,"g5":0.8,"m1":0.4,"m2":1.0,"m3":3.3,"c1":1.5,"c2":4.3,"y1":7.9,"y2":2.8,"g6":0.5,"g7":1.3,"g8":2.1},
      {"t":240,"mean":1.3,"g1":3.2,"g2":1.0,"g3":1.6,"g4":0.5,"g5":2.1,"m1":1.4,"m2":0.6,"m3":1.2,"c1":4.1,"c2":1.3,"y1":2.6,"y2":0.9,"g6":2.4,"g7":0.7,"g8":1.0},
      {"t":246,"mean":1.2,"g1":1.1,"g2":2.8,"g3":0.5,"g4":1.9,"g5":0.7,"m1":4.3,"m2":1.3,"m3":0.5,"c1":1.6,"c2":0.6,"y1":0.9,"y2":1.5,"g6":0.9,"g7":2.2,"g8":4.5},
      {"t":252,"mean":1.2,"g1":0.5,"g2":0.9,"g3":2.2,"g4":3.8,"g5":1.3,"m1":1.5,"m2":2.5,"m3":1.7,"c1":0.6,"c2":2.0,"y1":0.4,"y2":3.7,"g6":1.6,"g7":0.6,"g8":1.3},
      {"t":258,"mean":1.3,"g1":1.8,"g2":0.3,"g3":1.1,"g4":1.4,"g5":4.0,"m1":0.6,"m2":5.1,"m3":2.9,"c1":1.1,"c2":1.2,"y1":1.8,"y2":1.2,"g6":0.7,"g7":3.1,"g8":0.8},
      {"t":264,"mean":1.6,"g1":2.4,"g2":1.5,"g3":0.6,"g4":0.7,"g5":1.6,"m1":2.0,"m2":1.9,"m3":0.9,"c1":2.3,"c2":3.8,"y1":3.0,"y2":11.0,"g6":3.9,"g7":1.4,"g8":2.2},
      {"t":270,"mean":1.1,"g1":0.9,"g2":3.6,"g3":1.8,"g4":2.5,"g5":0.5,"m1":1.1,"m2":0.7,"m3":0.4,"c1":0.8,"c2":1.4,"y1":1.2,"y2":2.9,"g6":1.2,"g7":0.5,"g8":5.6},
      {"t":276,"mean":1.0,"g1":0.3,"g2":1.2,"g3":4.2,"g4":1.0,"g5":2.3,"m1":3.5,"m2":1.2,"m3":1.6,"c1":0.4,"c2":0.5,"y1":0.6,"y2":1.1,"g6":0.6,"g7":2.0,"g8":1.1},
      {"t":282,"mean":1.2,"g1":1.3,"g2":0.4,"g3":11.0,"g4":0.4,"g5":1.1,"m1":1.4,"m2":2.4,"m3":3.9,"c1":1.4,"c2":1.6,"y1":2.2,"y2":0.6,"g6":2.9,"g7":0.9,"g8":0.5},
      {"t":288,"mean":1.1,"g1":2.7,"g2":0.9,"g3":3.1,"g4":1.7,"g5":0.4,"m1":0.5,"m2":0.8,"m3":1.3,"c1":4.6,"c2":1.0,"y1":1.0,"y2":2.5,"g6":1.0,"g7":4.4,"g8":1.7},
      {"t":294,"mean":0.85,"g1":0.8,"g2":2.1,"g3":0.6,"g4":3.4,"g5":1.4,"m1":1.9,"m2":0.5,"m3":0.6,"c1":1.9,"c2":3.1,"y1":7.1,"y2":1.3,"g6":0.5,"g7":1.3,"g8":2.6},
      {"t":300,"mean":0.85,"g1":0.4,"g2":1.3,"g3":0.3,"g4":1.2,"g5":2.6,"m1":3.3,"m2":1.4,"m3":0.9,"c1":0.6,"c2":1.4,"y1":2.0,"y2":0.7,"g6":2.1,"g7":0.7,"g8":0.9},
      {"t":306,"mean":0.9,"g1":1.5,"g2":0.6,"g3":2.2,"g4":0.5,"g5":0.9,"m1":1.2,"m2":2.9,"m3":2.2,"c1":1.2,"c2":0.5,"y1":0.8,"y2":1.9,"g6":0.8,"g7":1.9,"g8":3.7},
      {"t":312,"mean":0.9,"g1":3.1,"g2":2.0,"g3":1.0,"g4":1.1,"g5":0.4,"m1":0.6,"m2":1.1,"m3":0.7,"c1":3.6,"c2":1.3,"y1":1.6,"y2":4.0,"g6":1.5,"g7":0.6,"g8":1.2},
      {"t":318,"mean":1.1,"g1":0.9,"g2":4.1,"g3":0.4,"g4":2.8,"g5":1.7,"m1":1.9,"m2":0.4,"m3":7.1,"c1":1.0,"c2":2.6,"y1":3.4,"y2":1.6,"g6":5.2,"g7":1.1,"g8":0.6},
      {"t":324,"mean":1.0,"g1":0.2,"g2":1.0,"g3":3.0,"g4":0.9,"g5":2.3,"m1":4.5,"m2":1.5,"m3":2.3,"c1":0.4,"c2":0.9,"y1":1.1,"y2":0.8,"g6":1.3,"g7":2.6,"g8":1.8},
      {"t":330,"mean":0.9,"g1":1.2,"g2":0.5,"g3":1.2,"g4":0.3,"g5":7.0,"m1":1.3,"m2":3.2,"m3":0.9,"c1":2.1,"c2":0.4,"y1":0.5,"y2":2.3,"g6":0.6,"g7":0.9,"g8":4.6},
      {"t":336,"mean":0.85,"g1":2.5,"g2":0.8,"g3":0.4,"g4":3.7,"g5":2.0,"m1":0.5,"m2":1.4,"m3":0.4,"c1":0.8,"c2":1.6,"y1":2.0,"y2":1.2,"g6":1.9,"g7":3.3,"g8":1.0},
      {"t":342,"mean":0.85,"g1":0.7,"g2":1.9,"g3":0.9,"g4":1.5,"g5":0.6,"m1":2.1,"m2":0.6,"m3":1.5,"c1":0.3,"c2":4.2,"y1":0.9,"y2":9.4,"g6":0.7,"g7":1.2,"g8":0.5},
      {"t":348,"mean":1.2,"g1":0.3,"g2":0.6,"g3":2.9,"g4":0.6,"g5":1.3,"m1":0.8,"m2":1.8,"m3":2.6,"c1":1.1,"c2":1.2,"y1":8.1,"y2":2.7,"g6":2.4,"g7":0.5,"g8":1.6},
      {"t":354,"mean":1.0,"g1":1.0,"g2":0.2,"g3":1.1,"g4":1.8,"g5":0.4,"m1":3.0,"m2":0.7,"m3":1.1,"c1":3.8,"c2":0.5,"y1":2.3,"y2":0.8,"g6":1.1,"g7":2.1,"g8":0.8},
      {"t":360,"mean":0.6,"g1":1.8,"g2":0.9,"g3":0.4,"g4":0.7,"g5":1.1,"m1":1.4,"m2":0.4,"m3":0.5,"c1":1.4,"c2":0.8,"y1":0.9,"y2":1.5,"g6":0.5,"g7":1.0,"g8":2.9},
      {"t":366,"mean":0.7,"g1":0.5,"g2":2.6,"g3":1.5,"g4":0.3,"g5":2.0,"m1":0.5,"m2":1.2,"m3":3.1,"c1":0.5,"c2":2.1,"y1":1.6,"y2":0.6,"g6":1.7,"g7":0.4,"g8":1.2},
      {"t":372,"mean":0.95,"g1":0.2,"g2":1.1,"g3":3.3,"g4":1.2,"g5":0.6,"m1":2.4,"m2":0.7,"m3":1.2,"c1":2.2,"c2":7.7,"y1":0.6,"y2":1.9,"g6":0.8,"g7":2.4,"g8":0.6},
      {"t":378,"mean":0.95,"g1":1.4,"g2":0.4,"g3":0.7,"g4":2.3,"g5":0.3,"m1":1.0,"m2":0.2,"m3":0.6,"c1":0.6,"c2":1.6,"y1":2.8,"y2":7.1,"g6":0.4,"g7":1.1,"g8":1.9},
      {"t":384,"mean":0.95,"g1":0.6,"g2":0.8,"g3":0.3,"g4":0.5,"g5":1.2,"m1":0.3,"m2":0.9,"m3":0.4,"c1":0.4,"c2":0.4,"y1":1.0,"y2":1.8,"g6":1.2,"g7":0.6,"g8":0.8}
    ]
  },
  "resolve": {"scale": {"y": "independent"}},
  "layer": [
    {
      "data": {"name": "temp"},
      "layer": [
        {
          "transform": [{"fold": ["y1", "y2", "y3"], "as": ["run", "val"]}],
          "mark": {"type": "line", "color": "#c8c800", "strokeWidth": 1, "point": {"filled": true, "size": 8, "color": "#a8a000"}},
          "encoding": {
            "x": {"field": "t", "type": "quantitative", "scale": {"domain": [0, 384], "nice": false, "zero": false}},
            "y": {"field": "val", "type": "quantitative", "scale": {"domain": [-42.714, 43], "nice": false, "zero": false}},
            "detail": {"field": "run"}
          }
        },
        {
          "transform": [{"fold": ["m1", "m2", "m3", "m4"], "as": ["run", "val"]}],
          "mark": {"type": "line", "color": "#c800c8", "strokeWidth": 1, "point": {"filled": true, "size": 8, "color": "#d8a800"}},
          "encoding": {
            "x": {"field": "t", "type": "quantitative", "scale": {"domain": [0, 384], "nice": false, "zero": false}},
            "y": {"field": "val", "type": "quantitative", "scale": {"domain": [-42.714, 43], "nice": false, "zero": false}},
            "detail": {"field": "run"}
          }
        },
        {
          "transform": [{"fold": ["c1", "c2", "c3"], "as": ["run", "val"]}],
          "mark": {"type": "line", "color": "#00c0c8", "strokeWidth": 1, "point": {"filled": true, "size": 8, "color": "#0000ff"}},
          "encoding": {
            "x": {"field": "t", "type": "quantitative", "scale": {"domain": [0, 384], "nice": false, "zero": false}},
            "y": {"field": "val", "type": "quantitative", "scale": {"domain": [-42.714, 43], "nice": false, "zero": false}},
            "detail": {"field": "run"}
          }
        },
        {
          "transform": [{"fold": ["g1", "g2", "g3", "g4", "g5", "g6", "g7", "g8", "g9", "g10", "g11", "g12", "g13"], "as": ["run", "val"]}],
          "mark": {"type": "line", "color": "#00b400", "strokeWidth": 1, "point": {"filled": true, "shape": "cross", "size": 12, "color": "#008000"}},
          "encoding": {
            "x": {"field": "t", "type": "quantitative", "scale": {"domain": [0, 384], "nice": false, "zero": false}},
            "y": {"field": "val", "type": "quantitative", "scale": {"domain": [-42.714, 43], "nice": false, "zero": false}},
            "detail": {"field": "run"}
          }
        },
        {
          "mark": {"type": "line", "color": "#ff0000", "strokeWidth": 4},
          "encoding": {
            "x": {"field": "t", "type": "quantitative", "scale": {"domain": [0, 384], "nice": false, "zero": false},
              "axis": {"values": [12, 36, 60, 84, 108, 132, 156, 180, 204, 228, 252, 276, 300, 324, 348, 372], "tickCount": 30,
                "labelExpr": "['30/01','31/01','01/02','02/02','03/02','04/02','05/02','06/02','07/02','08/02','09/02','10/02','11/02','12/02','13/02','14/02'][round((datum.value-12)/24)]",
                "labelAngle": 270, "labelAlign": "right", "labelBaseline": "middle", "labelOffset": 7, "labelPadding": 3,
                "labelFont": "DejaVu Sans Mono", "labelFontSize": 9.5, "labelColor": "black", "labelOverlap": false,
                "ticks": false, "grid": true, "gridColor": "#c0c0c0", "domainColor": "black", "title": null}},
            "y": {"field": "mean", "type": "quantitative", "scale": {"domain": [-42.714, 43], "nice": false, "zero": false},
              "axis": {"values": [-35, -30, -25, -20, -15, -10, -5, 0, 5, 10, 15, 20, 25, 30, 35, 40], "tickCount": 30,
                "grid": true, "gridColor": "#c0c0c0", "domainColor": "black", "ticks": false,
                "labelAlign": "left", "labelPadding": 30, "labelOffset": 3, "labelFont": "DejaVu Sans", "labelFontSize": 10,
                "labelColor": "black", "labelOverlap": false, "title": null}}
          }
        },
        {
          "data": {"values": [{}]},
          "layer": [
            {
              "mark": {"type": "rule", "color": "black", "strokeWidth": 1.2},
              "encoding": {"y": {"datum": 0, "type": "quantitative", "scale": {"domain": [-42.714, 43], "nice": false, "zero": false}}}
            },
            {
              "mark": {"type": "rule", "color": "black", "strokeWidth": 1.2},
              "encoding": {"y": {"datum": 0.32, "type": "quantitative", "scale": {"domain": [-42.714, 43], "nice": false, "zero": false}}}
            },
            {
              "mark": {"type": "text", "text": "Températures 2m"},
              "encoding": {
                "x": {"datum": 6, "type": "quantitative", "scale": {"domain": [0, 384], "nice": false, "zero": false}},
                "y": {"datum": 8.1, "type": "quantitative", "scale": {"domain": [-42.714, 43], "nice": false, "zero": false}}
              }
            },
            {
              "mark": {"type": "text", "text": "Précipitations"},
              "encoding": {
                "x": {"datum": 6, "type": "quantitative", "scale": {"domain": [0, 384], "nice": false, "zero": false}},
                "y": {"datum": -32.6, "type": "quantitative", "scale": {"domain": [-42.714, 43], "nice": false, "zero": false}}
              }
            },
            {
              "mark": {"type": "text", "text": "(°C)"},
              "encoding": {
                "x": {"datum": -18, "type": "quantitative", "scale": {"domain": [0, 384], "nice": false, "zero": false}},
                "y": {"datum": -43.7, "type": "quantitative", "scale": {"domain": [-42.714, 43], "nice": false, "zero": false}}
              }
            },
            {
              "mark": {"type": "text", "text": "(mm)"},
              "encoding": {
                "x": {"datum": 396, "type": "quantitative", "scale": {"domain": [0, 384], "nice": false, "zero": false}},
                "y": {"datum": -43.7, "type": "quantitative", "scale": {"domain": [-42.714, 43], "nice": false, "zero": false}}
              }
            },
            {
              "mark": {"type": "rule", "color": "#0000ff", "strokeWidth": 4},
              "encoding": {
                "x": {"datum": 105.4, "type": "quantitative", "scale": {"domain": [0, 384], "nice": false, "zero": false}},
                "x2": {"datum": 123.4},
                "y": {"datum": -48.0, "type": "quantitative", "scale": {"domain": [-42.714, 43], "nice": false, "zero": false}}
              }
            },
            {
              "mark": {"type": "rule", "color": "black", "strokeWidth": 4},
              "encoding": {
                "x": {"datum": 105.4, "type": "quantitative", "scale": {"domain": [0, 384], "nice": false, "zero": false}},
                "x2": {"datum": 123.4},
                "y": {"datum": -49.43, "type": "quantitative", "scale": {"domain": [-42.714, 43], "nice": false, "zero": false}}
              }
            },
            {
              "mark": {"type": "rule", "color": "#ff0000", "strokeWidth": 4},
              "encoding": {
                "x": {"datum": -9, "type": "quantitative", "scale": {"domain": [0, 384], "nice": false, "zero": false}},
                "x2": {"datum": 9.4},
                "y": {"datum": -50.14, "type": "quantitative", "scale": {"domain": [-42.714, 43], "nice": false, "zero": false}}
              }
            },
            {
              "mark": {"type": "text", "text": "Run de contrôle"},
              "encoding": {
                "x": {"datum": 128.6, "type": "quantitative", "scale": {"domain": [0, 384], "nice": false, "zero": false}},
                "y": {"datum": -48.0, "type": "quantitative", "scale": {"domain": [-42.714, 43], "nice": false, "zero": false}}
              }
            },
            {
              "mark": {"type": "text", "text": "Run GFS"},
              "encoding": {
                "x": {"datum": 128.6, "type": "quantitative", "scale": {"domain": [0, 384], "nice": false, "zero": false}},
                "y": {"datum": -49.43, "type": "quantitative", "scale": {"domain": [-42.714, 43], "nice": false, "zero": false}}
              }
            },
            {
              "mark": {"type": "text", "text": "Moyenne des scénarios"},
              "encoding": {
                "x": {"datum": 15, "type": "quantitative", "scale": {"domain": [0, 384], "nice": false, "zero": false}},
                "y": {"datum": -50.19, "type": "quantitative", "scale": {"domain": [-42.714, 43], "nice": false, "zero": false}}
              }
            },
            {
              "mark": {"type": "rect", "fill": "white", "stroke": "black", "strokeWidth": 1.5},
              "encoding": {
                "x": {"datum": -17.6, "type": "quantitative", "scale": {"domain": [0, 384], "nice": false, "zero": false}},
                "x2": {"datum": 234},
                "y": {"datum": -52.33, "type": "quantitative", "scale": {"domain": [-42.714, 43], "nice": false, "zero": false}},
                "y2": {"datum": -56.9}
              }
            },
            {
              "mark": {"type": "text", "text": "Diagramme des ensembles GEFS sur 384h : 50.8N 4.4E", "fontWeight": "bold", "fontSize": 11.4},
              "encoding": {
                "x": {"datum": -12, "type": "quantitative", "scale": {"domain": [0, 384], "nice": false, "zero": false}},
                "y": {"datum": -53.71, "type": "quantitative", "scale": {"domain": [-42.714, 43], "nice": false, "zero": false}}
              }
            },
            {
              "mark": {"type": "text", "text": "Température 2m (°C) , précipitations (mm)"},
              "encoding": {
                "x": {"datum": -12, "type": "quantitative", "scale": {"domain": [0, 384], "nice": false, "zero": false}},
                "y": {"datum": -56.07, "type": "quantitative", "scale": {"domain": [-42.714, 43], "nice": false, "zero": false}}
              }
            },
            {
              "mark": {"type": "text", "text": "Ensemble GEFS des 4 derniers runs"},
              "encoding": {
                "x": {"datum": 239.6, "type": "quantitative", "scale": {"domain": [0, 384], "nice": false, "zero": false}},
                "y": {"datum": -53.07, "type": "quantitative", "scale": {"domain": [-42.714, 43], "nice": false, "zero": false}}
              }
            },
            {
              "mark": {"type": "text", "text": "Copyright 2014 Meteociel.fr", "fontWeight": "bold", "fontSize": 11.6},
              "encoding": {
                "x": {"datum": 239.6, "type": "quantitative", "scale": {"domain": [0, 384], "nice": false, "zero": false}},
                "y": {"datum": -56.0, "type": "quantitative", "scale": {"domain": [-42.714, 43], "nice": false, "zero": false}}
              }
            }
          ]
        }
      ]
    },
    {
      "data": {"name": "rain"},
      "layer": [
        {
          "transform": [{"fold": ["y1", "y2"], "as": ["run", "val"]}],
          "mark": {"type": "line", "color": "#c8c800", "strokeWidth": 1, "point": {"filled": true, "size": 8, "color": "#a8a000"}},
          "encoding": {
            "x": {"field": "t", "type": "quantitative", "scale": {"domain": [0, 384], "nice": false, "zero": false}},
            "y": {"field": "val", "type": "quantitative", "scale": {"domain": [-7.714, 78], "nice": false, "zero": false}},
            "detail": {"field": "run"}
          }
        },
        {
          "transform": [{"fold": ["m1", "m2", "m3"], "as": ["run", "val"]}],
          "mark": {"type": "line", "color": "#c800c8", "strokeWidth": 1, "point": {"filled": true, "size": 8, "color": "#d8a800"}},
          "encoding": {
            "x": {"field": "t", "type": "quantitative", "scale": {"domain": [0, 384], "nice": false, "zero": false}},
            "y": {"field": "val", "type": "quantitative", "scale": {"domain": [-7.714, 78], "nice": false, "zero": false}},
            "detail": {"field": "run"}
          }
        },
        {
          "transform": [{"fold": ["c1", "c2"], "as": ["run", "val"]}],
          "mark": {"type": "line", "color": "#00c0c8", "strokeWidth": 1, "point": {"filled": true, "size": 8, "color": "#0000ff"}},
          "encoding": {
            "x": {"field": "t", "type": "quantitative", "scale": {"domain": [0, 384], "nice": false, "zero": false}},
            "y": {"field": "val", "type": "quantitative", "scale": {"domain": [-7.714, 78], "nice": false, "zero": false}},
            "detail": {"field": "run"}
          }
        },
        {
          "transform": [{"fold": ["g1", "g2", "g3", "g4", "g5", "g6", "g7", "g8"], "as": ["run", "val"]}],
          "mark": {"type": "line", "color": "#00b400", "strokeWidth": 1, "point": {"filled": true, "shape": "cross", "size": 12, "color": "#008000"}},
          "encoding": {
            "x": {"field": "t", "type": "quantitative", "scale": {"domain": [0, 384], "nice": false, "zero": false}},
            "y": {"field": "val", "type": "quantitative", "scale": {"domain": [-7.714, 78], "nice": false, "zero": false}},
            "detail": {"field": "run"}
          }
        },
        {
          "mark": {"type": "line", "color": "#ff0000", "strokeWidth": 4},
          "encoding": {
            "x": {"field": "t", "type": "quantitative", "scale": {"domain": [0, 384], "nice": false, "zero": false}},
            "y": {"field": "mean", "type": "quantitative", "scale": {"domain": [-7.714, 78], "nice": false, "zero": false},
              "axis": {"orient": "right", "values": [0, 5, 10, 15, 20, 25, 30, 35, 40, 45, 50, 55, 60, 65, 70, 75], "tickCount": 30,
                "grid": false, "domainColor": "black", "ticks": false, "labelAlign": "left", "labelPadding": 20,
                "labelOffset": 3, "labelFont": "DejaVu Sans", "labelFontSize": 10, "labelColor": "black", "labelOverlap": false, "title": null}}
          }
        }
      ]
    }
  ]
}
